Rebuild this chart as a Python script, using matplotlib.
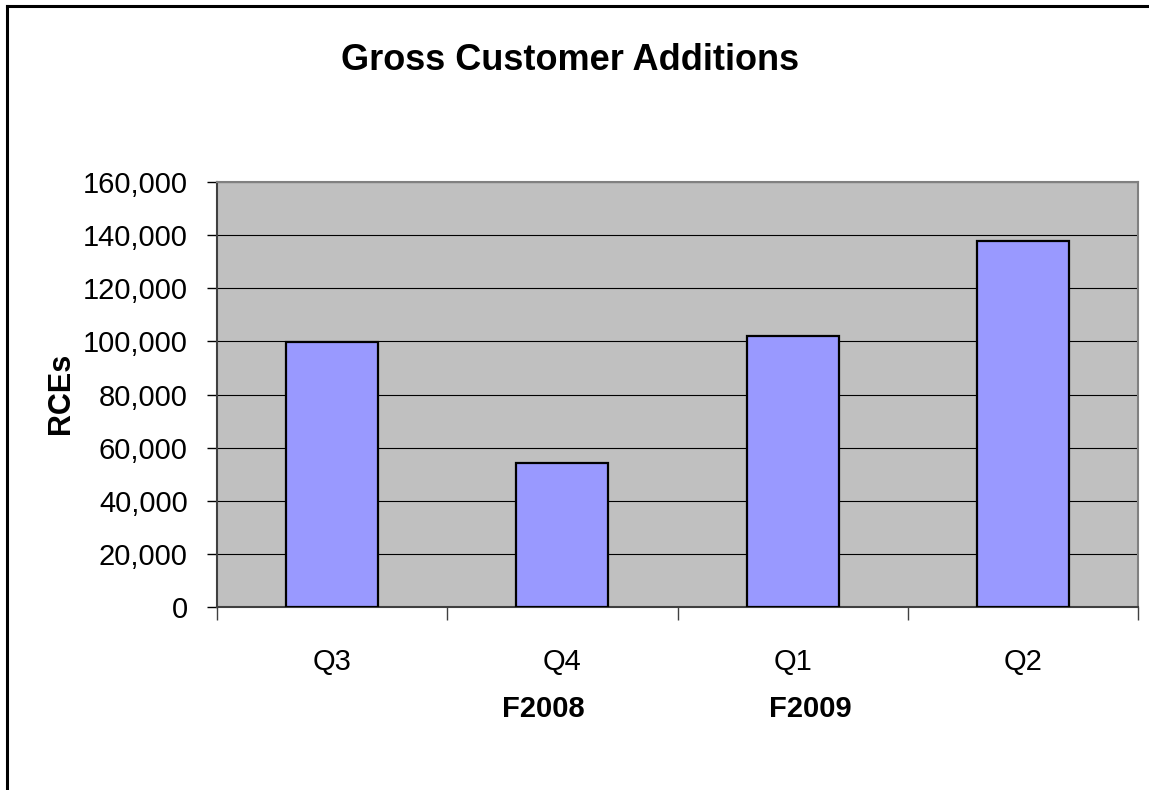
import matplotlib
matplotlib.use("Agg")
import matplotlib.pyplot as plt
from matplotlib.lines import Line2D
from matplotlib.ticker import FuncFormatter, MultipleLocator

categories = ["Q3", "Q4", "Q1", "Q2"]
values = [99800, 54300, 101900, 137800]
year_labels = ["F2008", "F2009"]
title = "Gross Customer Additions"
ylabel = "RCEs"

FONT = ["Liberation Sans", "DejaVu Sans"]

fig = plt.figure(figsize=(11.49, 7.90), dpi=100)
fig.patch.set_facecolor("white")
W, H = 1149, 790
left, right, top, bottom = 217, 1138, 182, 607
ax = fig.add_axes([left / W, 1 - bottom / H, (right - left) / W, (bottom - top) / H])
ax.set_facecolor("#C0C0C0")

x = list(range(len(categories)))
ax.bar(x, values, width=0.4, color="#9999FF", edgecolor="black", linewidth=1.6, zorder=3)

ax.set_xlim(-0.5, len(categories) - 0.5)
ax.set_ylim(0, 160000)
ax.yaxis.set_major_locator(MultipleLocator(20000))
ax.yaxis.set_major_formatter(FuncFormatter(lambda v, p: f"{int(v):,}"))
ax.grid(axis="y", color="black", linewidth=0.8, zorder=1)
ax.set_axisbelow(True)

ax.set_xticks([i - 0.5 for i in range(len(categories) + 1)])
ax.set_xticklabels([])
ax.tick_params(axis="x", length=9, width=1, color="#404040", direction="out")
ax.tick_params(axis="y", length=7, width=1, color="black", direction="out", pad=14)
for lab in ax.get_yticklabels():
    lab.set_fontfamily(FONT)
    lab.set_fontsize(21)

for i, c in enumerate(categories):
    ax.text(i, -0.13, c, transform=ax.get_xaxis_transform(), ha="center", va="center",
            fontsize=21, family=FONT)

year_x = [543, 810]
for xx, lab in zip(year_x, year_labels):
    fig.text(xx / W, 1 - 709 / H, lab, ha="center", va="center", fontsize=21,
             fontweight="bold", family=FONT)

ax.spines["left"].set_color("#404040")
ax.spines["bottom"].set_color("#404040")
ax.spines["top"].set_color("#808080")
ax.spines["right"].set_color("#808080")
for s in ax.spines.values():
    s.set_linewidth(1.5)

fig.text(570 / W, 1 - 61 / H, title, ha="center", va="center", fontsize=26,
         fontweight="bold", family=FONT)
fig.text(61 / W, 1 - 393 / H, ylabel, ha="center", va="center", rotation=90,
         fontsize=22, fontweight="bold", family=FONT)

# outer chart border (top and left visible)
fig.add_artist(Line2D([7 / W, 1.0], [1 - 6 / H, 1 - 6 / H], transform=fig.transFigure,
                      color="black", linewidth=2.2))
fig.add_artist(Line2D([7 / W, 7 / W], [1 - 6 / H, 0.0], transform=fig.transFigure,
                      color="black", linewidth=2.2))

fig.savefig("out.png", dpi=100)
